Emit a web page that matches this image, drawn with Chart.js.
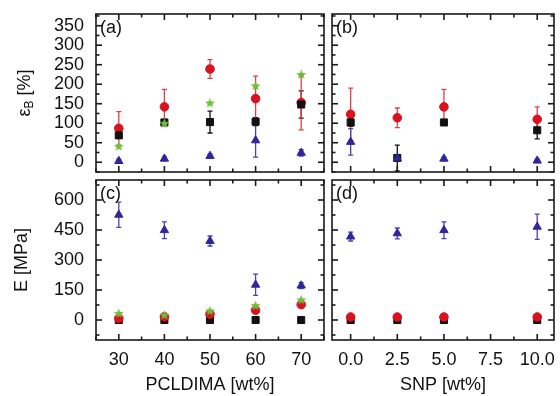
<!DOCTYPE html>
<html>
<head>
<meta charset="utf-8">
<script src="https://cdn.jsdelivr.net/npm/chart.js@4/dist/chart.umd.min.js"></script>
<style>
  html, body { margin: 0; padding: 0; background: #fff; }
  #wrap { position: relative; width: 560px; height: 396px; overflow: hidden; background: #fff; }
  #wrap canvas { position: absolute; }
</style>
</head>
<body>
<div id="wrap">
  <canvas id="chartA" width="330" height="178" style="left:0;top:0"></canvas>
  <canvas id="chartB" width="234" height="178" style="left:326px;top:0"></canvas>
  <canvas id="chartC" width="330" height="222" style="left:0;top:174px"></canvas>
  <canvas id="chartD" width="234" height="222" style="left:326px;top:174px"></canvas>
</div>
<script>
// x positions and tick labels
const pcldima = [30, 40, 50, 60, 70];
const snp = [0, 2.5, 5, 10];
const pcldimaTicks = [30, 40, 50, 60, 70];
const snpTicks = [0, 2.5, 5, 7.5, 10];
const strainTicks = [0, 50, 100, 150, 200, 250, 300, 350];
const modulusTicks = [0, 150, 300, 450, 600];

// (a) elongation at break vs PCLDIMA
const strainA_squares = [69, 102, 103, 104, 148];
const strainA_squaresErr = [8, 6, 28, 10, 35];
const strainA_circles = [87, 142, 239, 163, 153];
const strainA_circlesErr = [43, 45, 24, 58, 70];
const strainA_stars = [41, 100, 152, 196, 225];
const strainA_triangles = [3, 9, 16, 56, 24];
const strainA_trianglesErr = [5, 5, 5, 43, 8];

// (b) elongation at break vs SNP
const strainB_squares = [102, 11, 102, 82];
const strainB_squaresErr = [10, 33, 5, 22];
const strainB_circles = [123, 114, 142, 110];
const strainB_circlesErr = [67, 25, 45, 32];
const strainB_triangles = [52, 10, 9, 4];
const strainB_trianglesErr = [34, 5, 5, 4];

// (c) modulus vs PCLDIMA
const modulusC_squares = [0, 0, 0, 0, 0];
const modulusC_circles = [8, 16, 29, 49, 77];
const modulusC_stars = [33, 25, 46, 72, 101];
const modulusC_triangles = [526, 449, 395, 176, 172];
const modulusC_trianglesErr = [63, 42, 25, 53, 15];

// (d) modulus vs SNP
const modulusD_squares = [0, 0, 0, 0];
const modulusD_circles = [15, 15, 15, 15];
const modulusD_triangles = [417, 433, 449, 466];
const modulusD_trianglesErr = [22, 27, 42, 63];

const FONT = '"Liberation Sans", Arial, Helvetica, sans-serif';
const INK = '#111';

// small filled five-point star used as a marker image
function starMarker(color) {
    const c = document.createElement('canvas');
    c.width = 11;
    c.height = 11;
    const g = c.getContext('2d');
    g.fillStyle = color;
    g.beginPath();
    for (let i = 0; i < 10; i++) {
        const r = i % 2 ? 2.3 : 5.3;
        const ang = -Math.PI / 2 + i * Math.PI / 5;
        g.lineTo(5.5 + r * Math.cos(ang), 5.8 + r * Math.sin(ang));
    }
    g.closePath();
    g.fill();
    return c;
}

const styles = {
    square:   { pointStyle: 'rect', radius: 5, color: '#111', err: '#111', width: 1 },
    circle:   { pointStyle: 'circle', radius: 4.3, color: '#d9121d', err: '#df4048', width: 1 },
    star:     { pointStyle: starMarker('#6cbf3a'), radius: 5, color: '#6cbf3a', err: '#6cbf3a', width: 1 },
    triangle: { pointStyle: 'triangle', radius: 4.8, color: '#30269a', err: '#4a43ad', width: 1 }
};

function series(xs, ys, errs, style, order) {
    const s = styles[style];
    return {
        data: xs.map((x, i) => ({x: x, y: ys[i]})),
        err: errs,
        errColor: s.err,
        pointStyle: s.pointStyle,
        pointRadius: s.radius,
        backgroundColor: s.color,
        borderColor: s.color,
        borderWidth: s.width,
        order: order
    };
}

// vertical error bars with caps, drawn under the markers
const errorBars = {
    id: 'errorBars',
    beforeDatasetsDraw(chart) {
        const {ctx, chartArea: a, scales: {x, y}} = chart;
        ctx.save();
        ctx.beginPath();
        ctx.rect(a.left, a.top, a.right - a.left, a.bottom - a.top);
        ctx.clip();
        ctx.lineWidth = 1.3;
        chart.data.datasets.forEach(ds => {
            if (!ds.err) return;
            ctx.strokeStyle = ds.errColor;
            ds.data.forEach((p, i) => {
                const e = ds.err[i];
                if (!e) return;
                const px = x.getPixelForValue(p.x);
                const top = y.getPixelForValue(p.y + e);
                const bot = y.getPixelForValue(p.y - e);
                ctx.beginPath();
                ctx.moveTo(px, top); ctx.lineTo(px, bot);
                ctx.moveTo(px - 2.5, top); ctx.lineTo(px + 2.5, top);
                ctx.moveTo(px - 2.5, bot); ctx.lineTo(px + 2.5, bot);
                ctx.stroke();
            });
        });
        ctx.restore();
    }
};

// box around the panel, inward ticks on all sides, panel letter
const framePlugin = {
    id: 'frame',
    afterDraw(chart, args, opts) {
        const {ctx, chartArea: a, scales: {x, y}} = chart;
        ctx.save();
        ctx.strokeStyle = '#1a1a1a';
        ctx.lineWidth = 1.6;
        const seg = (x1, y1, x2, y2) => { ctx.beginPath(); ctx.moveTo(x1, y1); ctx.lineTo(x2, y2); ctx.stroke(); };
        const marks = (scale, major, step) => {
            const out = [];
            for (let v = Math.ceil(scale.min / step) * step; v <= scale.max + 1e-9; v += step) {
                const isMajor = major.some(m => Math.abs(m - v) < 1e-6);
                out.push({v: v, len: isMajor ? 6 : 3.5});
            }
            return out;
        };
        marks(x, opts.xMajor, opts.xMinor).forEach(t => {
            const px = x.getPixelForValue(t.v);
            seg(px, a.bottom, px, a.bottom - t.len);
            seg(px, a.top, px, a.top + t.len);
        });
        marks(y, opts.yMajor, opts.yMinor).forEach(t => {
            const py = y.getPixelForValue(t.v);
            seg(a.left, py, a.left + t.len, py);
            seg(a.right, py, a.right - t.len, py);
        });
        ctx.strokeRect(a.left, a.top, a.right - a.left, a.bottom - a.top);
        ctx.font = '18px ' + FONT;
        ctx.fillStyle = INK;
        ctx.textBaseline = 'top';
        ctx.fillText(opts.label, a.left + 4, a.top + 5);
        ctx.restore();
    }
};

// y title of panel (a), with a subscript B
const strainTitle = {
    id: 'strainTitle',
    afterDraw(chart) {
        const {ctx, chartArea: a} = chart;
        const big = '18px ' + FONT, small = '12px ' + FONT;
        ctx.save();
        ctx.translate(30, (a.top + a.bottom) / 2);
        ctx.rotate(-Math.PI / 2);
        ctx.fillStyle = INK;
        ctx.textBaseline = 'alphabetic';
        ctx.font = big;
        const w1 = ctx.measureText('\u03b5').width;
        const w3 = ctx.measureText(' [%]').width;
        ctx.font = small;
        const w2 = ctx.measureText('B').width;
        const x0 = -(w1 + w2 + w3) / 2;
        ctx.font = big;
        ctx.fillText('\u03b5', x0, 0);
        ctx.font = small;
        ctx.fillText('B', x0 + w1, 3);
        ctx.font = big;
        ctx.fillText(' [%]', x0 + w1 + w2, 0);
        ctx.restore();
    }
};

function axis(min, max, tickValues, o) {
    return {
        type: 'linear',
        min: min,
        max: max,
        display: o.show,
        grid: { display: false, drawTicks: false },
        border: { display: false },
        afterBuildTicks: s => { s.ticks = tickValues.map(v => ({value: v})); },
        afterFit: s => {
            if (o.height) s.height = o.height;
            if (o.width) s.width = o.width;
            // panels are laid out by hand, no extra room for edge labels
            s.paddingTop = 0;
            s.paddingBottom = 0;
            s.paddingLeft = 0;
            s.paddingRight = 0;
        },
        ticks: {
            display: o.show,
            autoSkip: false,
            padding: o.padding || 0,
            color: INK,
            font: { family: FONT, size: 18 },
            maxRotation: 0,
            callback: o.fmt || (v => v)
        },
        title: {
            display: !!o.title,
            text: o.title || '',
            color: INK,
            font: { family: FONT, size: 18 },
            padding: o.titlePad || 0
        }
    };
}

function makeChart(id, datasets, x, y, padding, frame, extra) {
    return new Chart(document.getElementById(id), {
        type: 'scatter',
        data: { datasets: datasets },
        plugins: [errorBars, framePlugin].concat(extra || []),
        options: {
            responsive: false,
            animation: false,
            layout: { padding: padding },
            plugins: {
                legend: { display: false },
                tooltip: { enabled: false },
                frame: frame
            },
            scales: { x: x, y: y }
        }
    });
}

makeChart('chartA', [
        series(pcldima, strainA_stars, null, 'star', 0),
        series(pcldima, strainA_squares, strainA_squaresErr, 'square', 1),
        series(pcldima, strainA_circles, strainA_circlesErr, 'circle', 2),
        series(pcldima, strainA_triangles, strainA_trianglesErr, 'triangle', 3)
    ],
    axis(25, 75, pcldimaTicks, { show: false }),
    axis(-25, 380, strainTicks, { show: true, width: 96, padding: 12 }),
    { top: 14, right: 2, bottom: 2, left: 0 },
    { label: '(a)', xMajor: pcldimaTicks, xMinor: 5, yMajor: strainTicks, yMinor: 25 },
    [strainTitle]);

makeChart('chartB', [
        series(snp, strainB_squares, strainB_squaresErr, 'square', 1),
        series(snp, strainB_circles, strainB_circlesErr, 'circle', 2),
        series(snp, strainB_triangles, strainB_trianglesErr, 'triangle', 0)
    ],
    axis(-1, 10.9, snpTicks, { show: false }),
    axis(-25, 380, strainTicks, { show: false }),
    { top: 14, right: 2, bottom: 2, left: 2 },
    { label: '(b)', xMajor: snpTicks, xMinor: 1.25, yMajor: strainTicks, yMinor: 25 });

makeChart('chartC', [
        series(pcldima, modulusC_stars, null, 'star', 0),
        series(pcldima, modulusC_circles, null, 'circle', 1),
        series(pcldima, modulusC_squares, null, 'square', 2),
        series(pcldima, modulusC_triangles, modulusC_trianglesErr, 'triangle', 3)
    ],
    axis(25, 75, pcldimaTicks, { show: true, height: 56, padding: 9, title: 'PCLDIMA [wt%]', titlePad: { top: 0, bottom: 0 } }),
    axis(-100, 700, modulusTicks, { show: true, width: 96, padding: 12, title: 'E [MPa]', titlePad: { top: 11, bottom: 0 } }),
    { top: 2, right: 2, bottom: 0, left: 0 },
    { label: '(c)', xMajor: pcldimaTicks, xMinor: 5, yMajor: modulusTicks, yMinor: 75 });

makeChart('chartD', [
        series(snp, modulusD_circles, null, 'circle', 0),
        series(snp, modulusD_squares, null, 'square', 1),
        series(snp, modulusD_triangles, modulusD_trianglesErr, 'triangle', 2)
    ],
    axis(-1, 10.9, snpTicks, { show: true, height: 56, padding: 9, title: 'SNP [wt%]', titlePad: { top: 0, bottom: 0 }, fmt: v => v.toFixed(1) }),
    axis(-100, 700, modulusTicks, { show: false }),
    { top: 2, right: 2, bottom: 0, left: 2 },
    { label: '(d)', xMajor: snpTicks, xMinor: 1.25, yMajor: modulusTicks, yMinor: 75 });
</script>
</body>
</html>
